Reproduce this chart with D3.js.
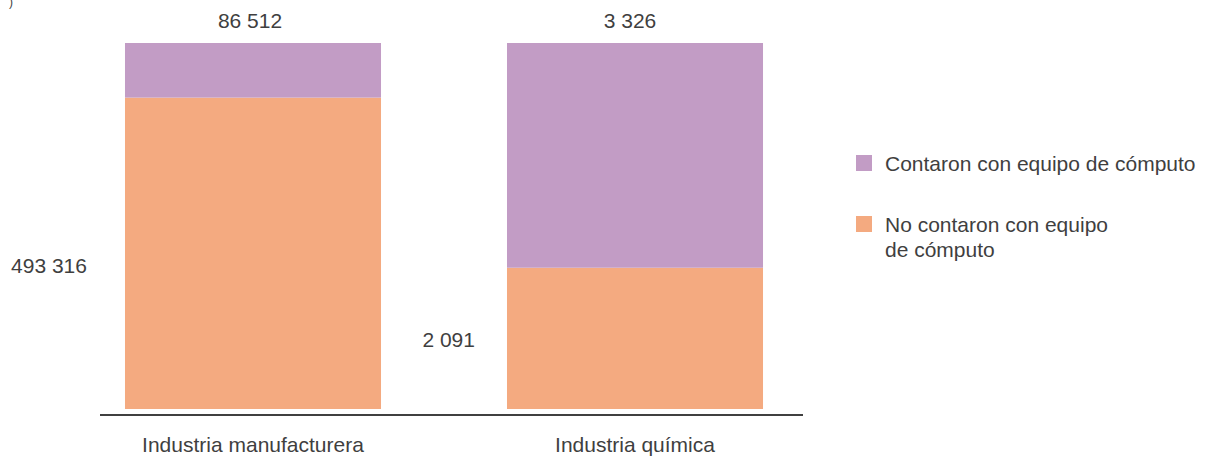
<!DOCTYPE html>
<html><head><meta charset="utf-8">
<script src="https://cdn.jsdelivr.net/npm/d3@7"></script>
<style>body{margin:0;background:#fff}svg{display:block}</style>
</head><body>
<svg id="c" width="1209" height="457"></svg>
<script>
const categories = ["Industria manufacturera", "Industria química"];
const contaron = [86512, 3326];
const noContaron = [493316, 2091];
const seriesNames = ["Contaron con equipo de cómputo", "No contaron con equipo de cómputo"];
const colors = ["#C29CC5", "#F4AA80"];

const svg = d3.select("#c");
const fontFam = "'Liberation Sans', Arial, sans-serif";
const textColor = "#3f3f3f";
const fs = 21;

const x = d3.scaleBand().domain(categories).range([100, 788]).paddingInner(0.3298).paddingOuter(0.0654);
const y = d3.scaleLinear().domain([0, 1]).range([409, 43]);

const data = categories.map((c, i) => {
  const t = contaron[i] + noContaron[i];
  return {cat: c, no: noContaron[i] / t, si: contaron[i] / t, i};
});

// bars
const g = svg.append("g");
g.selectAll(".no").data(data).join("rect")
  .attr("x", d => x(d.cat)).attr("width", x.bandwidth())
  .attr("y", d => y(d.no)).attr("height", d => y(0) - y(d.no))
  .attr("fill", colors[1]);
g.selectAll(".si").data(data).join("rect")
  .attr("x", d => x(d.cat)).attr("width", x.bandwidth())
  .attr("y", d => y(1)).attr("height", d => y(d.no) - y(1))
  .attr("fill", colors[0]);

// axis
const axis = svg.append("g").attr("transform", "translate(0,415)")
  .call(d3.axisBottom(x).tickSize(0).tickPadding(22));
axis.select(".domain").attr("d", "M100,0H803").attr("stroke", "#404040").attr("stroke-width", 2.2);
axis.selectAll("text").attr("font-family", fontFam)
  .attr("font-size", fs).attr("fill", textColor);

const fmt = v => d3.format(",")(v).replace(/,/g, " ");

// top labels (contaron)
svg.selectAll(".lt").data(data).join("text")
  .attr("x", d => x(d.cat) + x.bandwidth() / 2 + (d.i === 1 ? -5 : -3))
  .attr("y", 28).attr("text-anchor", "middle")
  .attr("font-family", fontFam).attr("font-size", fs).attr("fill", textColor)
  .text(d => fmt(contaron[d.i]));

// left labels (no contaron)
const leftY = [273, 347];
svg.selectAll(".ll").data(data).join("text")
  .attr("x", d => x(d.cat) - (d.i === 0 ? 38 : 32))
  .attr("y", d => leftY[d.i]).attr("text-anchor", "end")
  .attr("font-family", fontFam).attr("font-size", fs).attr("fill", textColor)
  .text(d => fmt(noContaron[d.i]));

// legend
const leg = svg.append("g").attr("font-family", fontFam).attr("font-size", fs).attr("fill", textColor);
leg.append("rect").attr("x", 856).attr("y", 155).attr("width", 16).attr("height", 16).attr("fill", colors[0]);
leg.append("text").attr("x", 885).attr("y", 171).text(seriesNames[0]);
leg.append("rect").attr("x", 856).attr("y", 216).attr("width", 16).attr("height", 16).attr("fill", colors[1]);
const t2 = leg.append("text").attr("x", 885).attr("y", 232);
t2.append("tspan").attr("x", 885).text("No contaron con equipo");
t2.append("tspan").attr("x", 885).attr("dy", 25).text("de cómputo");

// small mark top-left
svg.append("text").attr("x", 9).attr("y", 6).attr("font-family", fontFam).attr("font-size", 12)
  .attr("fill", textColor).text(")");
</script>
</body></html>
